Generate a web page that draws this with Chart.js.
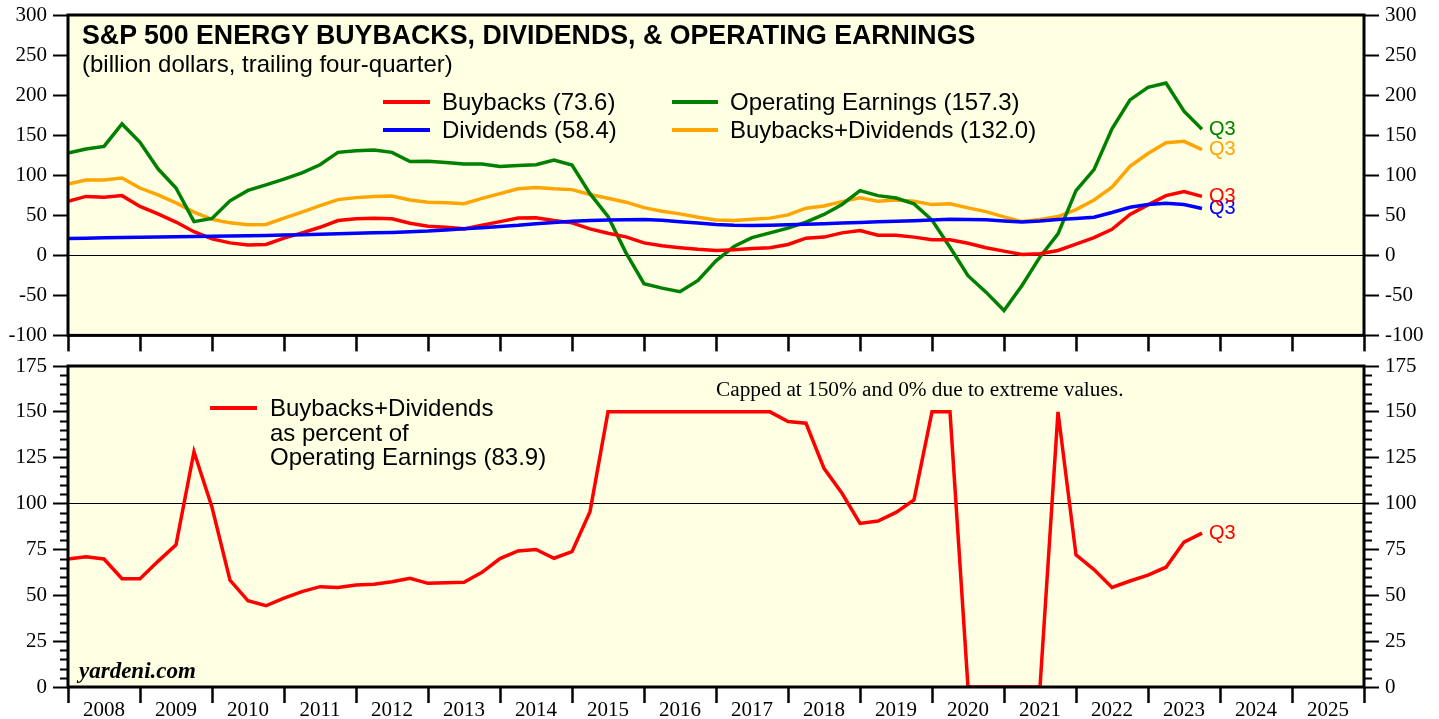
<!DOCTYPE html>
<html>
<head>
<meta charset="utf-8">
<script src="https://cdn.jsdelivr.net/npm/chart.js@4.4.1/dist/chart.umd.min.js"></script>
<style>
  html, body { margin:0; padding:0; }
  body { width:1439px; height:719px; overflow:hidden; background:#fff; position:relative;
         font-family:"Liberation Sans", Arial, Helvetica, sans-serif; }
  canvas { position:absolute; left:0; }
  #c1 { top:-10px; }
  #c2 { top:342px; }
  .t { position:absolute; white-space:nowrap; line-height:1; color:#000; }
  .sw { position:absolute; height:4px; }
  .serif { font-family:"Liberation Serif", "Times New Roman", serif; }
</style>
</head>
<body>
<canvas id="c1" width="1439" height="364"></canvas>
<canvas id="c2" width="1439" height="377"></canvas>

<div class="t" style="left:82px;top:22px;font-size:26.75px;font-weight:bold;">S&amp;P 500 ENERGY BUYBACKS, DIVIDENDS, &amp; OPERATING EARNINGS</div>
<div class="t" style="left:82px;top:52px;font-size:24px;">(billion dollars, trailing four-quarter)</div>

<div class="sw" style="left:383px;top:100px;width:47px;background:#FF0000;"></div>
<div class="t" style="left:442px;top:90px;font-size:24px;">Buybacks (73.6)</div>
<div class="sw" style="left:383px;top:128px;width:47px;background:#0000FF;"></div>
<div class="t" style="left:442px;top:118px;font-size:24px;">Dividends (58.4)</div>
<div class="sw" style="left:672px;top:100px;width:46px;background:#008000;"></div>
<div class="t" style="left:730px;top:90px;font-size:24px;">Operating Earnings (157.3)</div>
<div class="sw" style="left:672px;top:128px;width:46px;background:#FFA500;"></div>
<div class="t" style="left:730px;top:118px;font-size:24px;">Buybacks+Dividends (132.0)</div>

<div class="sw" style="left:210px;top:406px;width:47px;background:#FF0000;"></div>
<div class="t" style="left:270px;top:396px;font-size:24px;">Buybacks+Dividends</div>
<div class="t" style="left:270px;top:420.5px;font-size:24px;">as percent of</div>
<div class="t" style="left:270px;top:444.5px;font-size:24px;">Operating Earnings (83.9)</div>

<div class="t serif" style="left:716px;top:379px;font-size:21.3px;">Capped at 150% and 0% due to extreme values.</div>
<div class="t serif" style="left:79px;top:659px;font-size:23px;font-weight:bold;font-style:italic;">yardeni.com</div>

<script>
// ---------------- DATA ----------------
const quarters = [
  "2007Q4",
  "2008Q1","2008Q2","2008Q3","2008Q4",
  "2009Q1","2009Q2","2009Q3","2009Q4",
  "2010Q1","2010Q2","2010Q3","2010Q4",
  "2011Q1","2011Q2","2011Q3","2011Q4",
  "2012Q1","2012Q2","2012Q3","2012Q4",
  "2013Q1","2013Q2","2013Q3","2013Q4",
  "2014Q1","2014Q2","2014Q3","2014Q4",
  "2015Q1","2015Q2","2015Q3","2015Q4",
  "2016Q1","2016Q2","2016Q3","2016Q4",
  "2017Q1","2017Q2","2017Q3","2017Q4",
  "2018Q1","2018Q2","2018Q3","2018Q4",
  "2019Q1","2019Q2","2019Q3","2019Q4",
  "2020Q1","2020Q2","2020Q3","2020Q4",
  "2021Q1","2021Q2","2021Q3","2021Q4",
  "2022Q1","2022Q2","2022Q3","2022Q4",
  "2023Q1","2023Q2","2023Q3"
];

const buybacks = [
  67.5, 73.5, 72.5, 74.5, 61.0, 51.7, 41.5, 29.5,
  20.5, 15.5, 13.0, 13.5, 21.4, 28.0, 35.0, 43.4,
  45.5, 46.4, 45.5, 40.0, 36.4, 35.0, 33.0, 37.5,
  42.0, 46.5, 47.0, 43.4, 40.5, 33.0, 27.5, 23.0,
  15.5, 12.0, 9.5, 7.5, 6.0, 7.0, 8.5, 9.5,
  13.5, 21.4, 22.7, 28.0, 31.0, 25.0, 25.0, 22.7,
  19.5, 19.5, 15.0, 9.5, 5.2, 1.0, 2.0, 6.0,
  14.0, 22.0, 32.5, 51.0, 63.0, 74.5, 79.5, 73.6
];

const dividends = [
  21.0, 21.4, 21.8, 22.2, 22.5, 22.8, 23.1, 23.4,
  23.7, 24.0, 24.3, 24.7, 25.2, 25.8, 26.4, 27.0,
  27.5, 28.0, 28.6, 29.4, 30.2, 31.5, 33.0, 34.5,
  36.0, 37.5, 39.5, 41.0, 42.5, 43.4, 44.0, 44.4,
  44.6, 43.8, 42.0, 40.3, 38.5, 37.5, 37.2, 37.5,
  38.0, 38.8, 39.5, 40.2, 41.0, 41.8, 42.5, 43.2,
  44.0, 45.0, 44.8, 44.3, 42.8, 41.5, 42.8, 44.6,
  46.0, 47.6, 53.5, 60.0, 63.3, 65.0, 63.3, 58.4
];

const operatingEarnings = [
  127.7, 132.7, 136.0, 164.0, 141.0, 108.0, 84.0, 42.0,
  46.0, 68.0, 81.0, 88.0, 95.0, 103.0, 113.0, 128.5,
  130.5, 131.5, 128.5, 117.0, 117.5, 116.0, 114.0, 114.0,
  111.0, 112.0, 113.0, 119.0, 112.8, 77.0, 48.5, 3.0,
  -35.5, -41.0, -45.5, -31.4, -7.0, 11.0, 22.0, 28.0,
  34.0, 41.4, 51.0, 63.5, 80.7, 74.5, 71.5, 64.2,
  44.0, 10.0, -25.5, -46.0, -69.0, -37.6, -2.0, 26.8,
  80.7, 107.0, 158.0, 194.0, 209.6, 215.0, 180.0, 157.3
];

const buybacksPlusDividends = [
  89.0, 94.0, 94.0, 96.5, 84.0, 75.5, 65.5, 54.0,
  45.0, 40.5, 38.0, 38.5, 46.5, 54.0, 62.0, 69.5,
  72.0, 73.5, 74.0, 69.0, 66.3, 65.5, 64.5, 71.0,
  77.0, 83.0, 84.5, 83.0, 82.0, 76.0, 71.3, 66.3,
  59.5, 55.0, 51.7, 47.6, 44.0, 43.6, 45.0, 46.4,
  50.5, 58.8, 61.5, 67.0, 71.7, 67.5, 69.0, 67.5,
  63.3, 64.2, 59.2, 54.5, 48.0, 42.1, 44.6, 48.4,
  57.0, 69.0, 85.0, 111.0, 127.0, 140.5, 142.3, 132.0
];

const payoutPercent = [
  69.8, 71.0, 69.8, 59.0, 59.0, 68.5, 77.5, 128.3,
  98.0, 58.3, 47.0, 44.3, 48.4, 52.0, 54.7, 54.3,
  55.6, 56.0, 57.4, 59.3, 56.5, 56.9, 57.1, 62.5,
  70.0, 74.2, 75.0, 70.2, 73.8, 95.6, 150, 150,
  150, 150, 150, 150, 150, 150, 150, 150,
  144.7, 143.8, 119.2, 105.6, 89.2, 90.5, 95.2, 102.0,
  150, 150, 0, 0, 0, 0, 0, 150,
  72.0, 64.0, 54.3, 57.8, 61.0, 65.3, 79.0, 83.9
];

const yearTicksMin = 2008, yearTicksMax = 2026;
const topTicks = { min: -100, max: 300, step: 50 };
const bottomTicks = { min: 0, max: 175, step: 25, minorStep: 5 };
const endLabel = "Q3";

// ---------------- HELPERS ----------------
// quarter-end position on the year axis (2007Q4 -> 2008.0, 2008Q1 -> 2008.25 ...)
const xs = quarters.map(q => +q.slice(0, 4) + (+q.slice(5)) / 4);
const pts = arr => arr.map((v, i) => ({ x: xs[i], y: v }));

const SERIF = '"Liberation Serif", "Times New Roman", serif';
const SANS = '"Liberation Sans", Arial, sans-serif';
const BG = '#FFFFE3';

const framePlugin = {
  id: 'frame',
  beforeDraw(chart) {
    const { ctx, chartArea: a } = chart;
    ctx.save();
    ctx.fillStyle = BG;
    ctx.fillRect(a.left, a.top, a.right - a.left, a.bottom - a.top);
    ctx.restore();
  },
  afterDraw(chart) {
    const { ctx, chartArea: a } = chart;
    ctx.save();
    ctx.strokeStyle = '#000';
    ctx.lineWidth = 3;
    ctx.strokeRect(a.left, a.top, a.right - a.left, a.bottom - a.top);
    ctx.restore();
  }
};

const endLabelPlugin = {
  id: 'endLabels',
  afterDatasetsDraw(chart) {
    const ctx = chart.ctx;
    ctx.save();
    ctx.font = '20px ' + SANS;
    ctx.textBaseline = 'middle';
    ctx.textAlign = 'left';
    chart.data.datasets.forEach((ds, i) => {
      if (!ds.endLabel) return;
      const meta = chart.getDatasetMeta(i);
      const p = meta.data[meta.data.length - 1];
      ctx.fillStyle = ds.borderColor;
      ctx.fillText(ds.endLabel, p.x + 7, p.y);
    });
    ctx.restore();
  }
};

const minorTickPlugin = {
  id: 'minorTicks',
  afterDraw(chart) {
    const s = chart.scales.y;
    const { ctx, chartArea: a } = chart;
    ctx.save();
    ctx.strokeStyle = '#000';
    ctx.lineWidth = 2;
    for (let v = bottomTicks.min; v <= bottomTicks.max; v += bottomTicks.minorStep) {
      if (v % bottomTicks.step === 0) continue;
      const y = Math.round(s.getPixelForValue(v)) + 0.5;
      ctx.beginPath();
      ctx.moveTo(a.left - 8, y); ctx.lineTo(a.left, y);
      ctx.moveTo(a.right, y); ctx.lineTo(a.right + 8, y);
      ctx.stroke();
    }
    ctx.restore();
  }
};

function yAxis(position, t, width, refLine) {
  return {
    type: 'linear', position, min: t.min, max: t.max,
    ticks: { stepSize: t.step, maxTicksLimit: 50, color: '#000', padding: 6,
             font: { family: SERIF, size: 21 } },
    grid: {
      drawOnChartArea: refLine !== undefined,
      color: c => (refLine !== undefined && c.tick && c.tick.value === refLine) ? '#000' : 'rgba(0,0,0,0)',
      lineWidth: 1, tickColor: '#000', tickLength: 15, tickWidth: 2
    },
    border: { display: false },
    afterFit(s) { s.width = width; }
  };
}

function xAxis(height, showLabels) {
  return {
    type: 'linear', position: 'bottom', min: yearTicksMin, max: yearTicksMax,
    ticks: {
      stepSize: 1, autoSkip: false, maxRotation: 0, minRotation: 0, maxTicksLimit: 50,
      display: showLabels, labelOffset: 36, padding: -5, color: '#000',
      font: { family: SERIF, size: 21 },
      callback: v => (v < yearTicksMax ? String(v) : '')
    },
    grid: { drawOnChartArea: false, tickLength: 16, tickWidth: 2.5, tickColor: '#000' },
    border: { display: false },
    afterFit(s) { s.height = height; }
  };
}

const lineDs = (label, data, color, extra) => Object.assign({
  label, data: pts(data), borderColor: color, backgroundColor: color,
  borderWidth: 3.5, pointRadius: 0, tension: 0, fill: false
}, extra || {});

const common = {
  responsive: false, animation: false, devicePixelRatio: 1,
  plugins: { legend: { display: false }, tooltip: { enabled: false } },
  events: []
};

// ---------------- TOP CHART ----------------
new Chart(document.getElementById('c1'), {
  type: 'line',
  data: {
    datasets: [
      lineDs('Dividends', dividends, '#0000FF', { endLabel }),
      lineDs('Buybacks', buybacks, '#FF0000', { endLabel }),
      lineDs('Operating Earnings', operatingEarnings, '#008000', { endLabel }),
      lineDs('Buybacks+Dividends', buybacksPlusDividends, '#FFA500', { endLabel })
    ]
  },
  options: Object.assign({}, common, {
    layout: { padding: { top: 25, left: 0, right: 0, bottom: 0 } },
    scales: {
      x: xAxis(18, false),
      y: yAxis('left', topTicks, 68, 0),
      y2: yAxis('right', topTicks, 75)
    }
  }),
  plugins: [framePlugin, endLabelPlugin]
});

// ---------------- BOTTOM CHART ----------------
new Chart(document.getElementById('c2'), {
  type: 'line',
  data: {
    datasets: [
      lineDs('Buybacks+Dividends as percent of Operating Earnings', payoutPercent, '#FF0000', { endLabel })
    ]
  },
  options: Object.assign({}, common, {
    layout: { padding: { top: 24, left: 0, right: 0, bottom: 0 } },
    scales: {
      x: xAxis(32, true),
      y: yAxis('left', bottomTicks, 68, 100),
      y2: yAxis('right', bottomTicks, 75)
    }
  }),
  plugins: [framePlugin, endLabelPlugin, minorTickPlugin]
});
</script>
</body>
</html>
